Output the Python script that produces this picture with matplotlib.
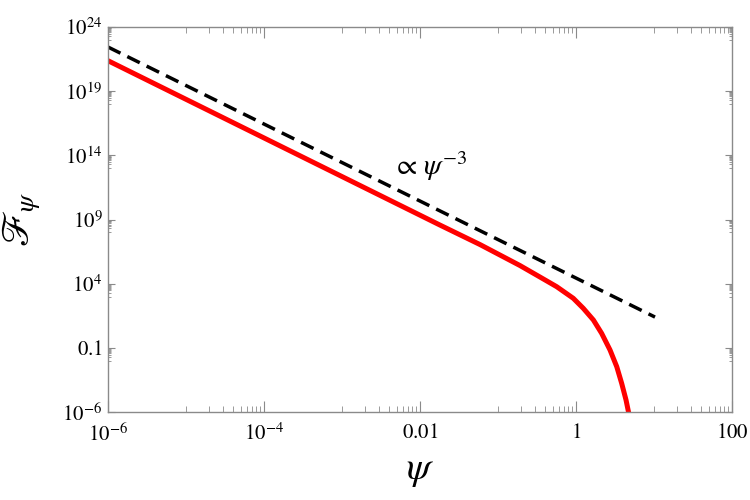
import matplotlib
matplotlib.use("Agg")
import matplotlib.pyplot as plt

# F_psi vs psi, log-log
plt.rcParams['font.family'] = 'STIXGeneral'
plt.rcParams['mathtext.fontset'] = 'stix'

# red curve
psi = [1e-6, 1.8e-2, 0.0587, 0.191, 0.345, 0.566, 0.923, 1.24, 1.67, 2.13,
       2.73, 3.33, 3.85, 4.38, 4.74]
F = [2.37e21, 3.7e8, 1.12e7, 2.6e5, 3.3e4, 5.8e3, 724, 120, 14.8, 1.36,
     0.068, 3.4e-3, 1.72e-4, 8.6e-6, 8.3e-7]

# dashed guide line  ~ psi^-3
psi_ref = [1e-6, 10.3]
F_ref = [2.75e22, 25]

xticks = [1e-6, 1e-4, 1e-2, 1, 100]
xlabels = ['$10^{-6}$', '$10^{-4}$', '$0.01$', '$1$', '$100$']
yticks = [1e-6, 0.1, 1e4, 1e9, 1e14, 1e19, 1e24]
ylabels = ['$10^{-6}$', '$0.1$', '$10^{4}$', '$10^{9}$', '$10^{14}$', '$10^{19}$', '$10^{24}$']

fig = plt.figure(figsize=(7.5, 5), dpi=100)
ax = fig.add_axes([0.144, 0.176, 0.832, 0.770])

ax.plot(psi_ref, F_ref, '--', color='black', lw=2.5, dashes=(4, 2.2))
ax.plot(psi, F, '-', color='red', lw=3.6, solid_capstyle='butt',
        solid_joinstyle='round')

ax.set_xscale('log')
ax.set_yscale('log')
ax.set_xlim(1e-6, 100)
ax.set_ylim(1e-6, 1e24)

ax.set_xticks(xticks)
ax.set_xticklabels(xlabels)
ax.set_yticks(yticks)
ax.set_yticklabels(ylabels)

# minor ticks: 1..9 x the decade just below each major tick
xminor = [k * t / 10 for t in xticks for k in range(1, 10)]
yminor = [k * t / 10 for t in yticks for k in range(1, 10)]
ax.set_xticks([v for v in xminor if 1e-6 < v < 100], minor=True)
ax.set_yticks([v for v in yminor if 1e-6 < v < 1e24], minor=True)
ax.set_xticklabels([], minor=True)
ax.set_yticklabels([], minor=True)

for s in ax.spines.values():
    s.set_color('#8a8a8a')
    s.set_linewidth(1.0)
ax.tick_params(which='both', direction='in', top=True, right=True,
               color='#8a8a8a', labelsize=15, pad=4)
ax.tick_params(axis='x', which='major', length=8, width=0.8, pad=8)
ax.tick_params(axis='x', which='minor', length=4, width=0.6)
ax.tick_params(axis='y', which='major', length=5, width=0.8)
ax.tick_params(axis='y', which='minor', length=2.5, width=0.6)

ax.set_xlabel(r'$\psi$', fontsize=28, labelpad=6)
ax.set_ylabel(r'$\mathscr{F}_{\psi}$', fontsize=28, labelpad=14)

ax.text(4.4e-3, 3e12, r'$\propto\,\psi^{-3}$', fontsize=21)

fig.savefig('out.png', dpi=100)
